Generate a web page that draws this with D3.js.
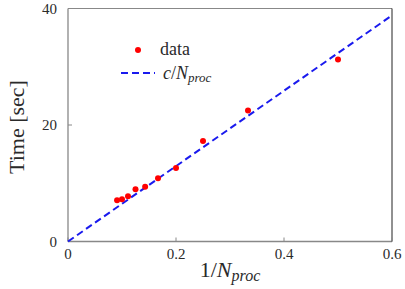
<!DOCTYPE html>
<html>
<head>
<meta charset="utf-8">
<script src="https://cdn.jsdelivr.net/npm/d3@7"></script>
<style>
  body { margin: 0; background: #fff; }
</style>
</head>
<body>
<svg id="Canvas" width="405" height="289"></svg>
<script>
// 1/N_proc and measured times
var invProc = [1/11, 1/10, 1/9, 1/8, 1/7, 1/6, 1/5, 1/4, 1/3, 1/2];
var timeSec = [7.07, 7.24, 7.75, 8.95, 9.4, 10.84, 12.61, 17.24, 22.5, 31.25];
var fitC = 64.7;
var xTicks = [0, 0.2, 0.4, 0.6];
var yTicks = [0, 20, 40];

function drawChart() {
  var svg = d3.select("#Canvas")
    .attr("font-family", "'Liberation Serif', 'DejaVu Serif', serif")
    .attr("fill", "#2a2a2a");
  var pLeft = 68, pRight = 392, pTop = 8.5, pBottom = 241.5;

  var x = d3.scaleLinear().domain([0, 0.6]).range([pLeft, pRight]);
  var y = d3.scaleLinear().domain([0, 40]).range([pBottom, pTop]);

  // frame
  svg.append("line").attr("x1", pLeft).attr("x2", pRight).attr("y1", pTop).attr("y2", pTop)
    .style("stroke", "#888").style("stroke-width", 1);
  svg.append("line").attr("x1", pLeft).attr("x2", pLeft).attr("y1", pTop).attr("y2", pBottom)
    .style("stroke", "#888").style("stroke-width", 1.3);
  svg.append("line").attr("x1", pLeft).attr("x2", pRight).attr("y1", pBottom).attr("y2", pBottom)
    .style("stroke", "#888").style("stroke-width", 1.3);
  svg.append("line").attr("x1", pRight).attr("x2", pRight).attr("y1", pTop).attr("y2", pBottom)
    .style("stroke", "#222").style("stroke-width", 1);

  // ticks (inward)
  xTicks.forEach(function (t) {
    svg.append("line").attr("x1", x(t)).attr("x2", x(t)).attr("y1", pBottom).attr("y2", pBottom - 4)
      .style("stroke", "#888");
    svg.append("text").attr("x", x(t)).attr("y", pBottom + 17)
      .attr("text-anchor", "middle").style("font-size", "15px").text(t === 0 ? "0" : t.toFixed(1));
  });
  yTicks.forEach(function (t) {
    svg.append("line").attr("x1", pLeft).attr("x2", pLeft + 4).attr("y1", y(t)).attr("y2", y(t))
      .style("stroke", "#888");
    svg.append("text").attr("x", pLeft - 11).attr("y", y(t) + 5)
      .attr("text-anchor", "end").style("font-size", "15px").text(t);
  });

  // fit line
  svg.append("line")
    .attr("x1", x(0)).attr("y1", y(0))
    .attr("x2", x(0.6)).attr("y2", y(fitC * 0.6))
    .style("stroke", "#1a1aee").style("stroke-width", 2)
    .style("stroke-dasharray", "7,4");

  // data points
  svg.selectAll("circle.pt").data(invProc).enter().append("circle")
    .attr("class", "pt")
    .attr("cx", function (d) { return x(d); })
    .attr("cy", function (d, i) { return y(timeSec[i]); })
    .attr("r", 3)
    .style("fill", "#f00");

  // legend
  svg.append("circle").attr("cx", 138).attr("cy", 50).attr("r", 3).style("fill", "#f00");
  svg.append("text").attr("x", 160).attr("y", 55).style("font-size", "18px").text("data");
  svg.append("line").attr("x1", 121).attr("x2", 155).attr("y1", 73).attr("y2", 73)
    .style("stroke", "#1a1aee").style("stroke-width", 2).style("stroke-dasharray", "7,4");
  var leg = svg.append("text").attr("x", 163).attr("y", 79).style("font-size", "18px").style("font-style", "italic");
  leg.append("tspan").text("c");
  leg.append("tspan").style("font-style", "normal").text("/");
  leg.append("tspan").text("N");
  leg.append("tspan").attr("dy", 3).style("font-size", "13px").text("proc");

  // axis titles
  svg.append("text")
    .attr("transform", "translate(24," + ((pTop + pBottom) / 2 + 2) + ") rotate(-90)")
    .attr("text-anchor", "middle").style("font-size", "22px").text("Time [sec]");

  var xl = svg.append("text").attr("x", (pLeft + pRight) / 2).attr("y", 277)
    .attr("text-anchor", "middle").style("font-size", "22px");
  xl.append("tspan").text("1/");
  xl.append("tspan").style("font-style", "italic").text("N");
  xl.append("tspan").attr("dy", 4).style("font-style", "italic").style("font-size", "16px").text("proc");
}

drawChart();
</script>
</body>
</html>
